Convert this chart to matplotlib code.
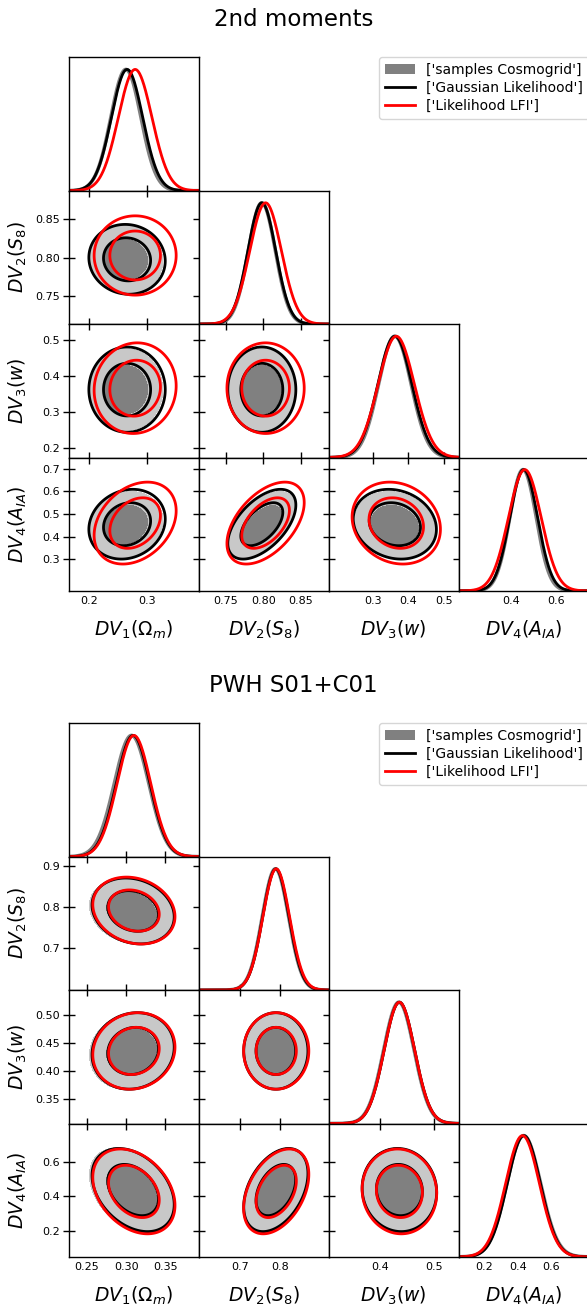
import numpy as np
import matplotlib.pyplot as plt
from matplotlib.patches import Patch
from matplotlib.lines import Line2D

# ---- data ----
param_labels = [r'$DV_1(\Omega_m)$', r'$DV_2(S_8)$', r'$DV_3(w)$', r'$DV_4(A_{IA})$']
legend_names = ["['samples Cosmogrid']", "['Gaussian Likelihood']", "['Likelihood LFI']"]

# panel 1: 2nd moments
mom_title = '2nd moments'
mom_lims = [(0.165, 0.39), (0.714, 0.887), (0.175, 0.5425), (0.16, 0.75)]
mom_xticks = [[0.2, 0.3], [0.75, 0.80, 0.85], [0.3, 0.4, 0.5], [0.4, 0.6]]
mom_yticks = [[], [0.75, 0.80, 0.85], [0.2, 0.3, 0.4, 0.5], [0.3, 0.4, 0.5, 0.6, 0.7]]
mom_xfmt = ['%.1f', '%.2f', '%.1f', '%.1f']
mom_yfmt = ['%.1f', '%.2f', '%.1f', '%.1f']
mom_cosmo_mean = [0.264, 0.798, 0.362, 0.452]
mom_cosmo_sig = [0.026, 0.018, 0.046, 0.060]
mom_gauss_mean = [0.266, 0.798, 0.362, 0.455]
mom_gauss_sig = [0.027, 0.0185, 0.048, 0.063]
mom_lfi_mean = [0.280, 0.803, 0.366, 0.460]
mom_lfi_sig = [0.029, 0.021, 0.051, 0.074]
mom_cosmo_rho = [[1, 0, 0, 0], [-0.05, 1, 0, 0], [0.0, 0.0, 1, 0], [0.15, 0.55, -0.15, 1]]
mom_gauss_rho = [[1, 0, 0, 0], [-0.05, 1, 0, 0], [0.0, 0.0, 1, 0], [0.15, 0.55, -0.15, 1]]
mom_lfi_rho = [[1, 0, 0, 0], [0.0, 1, 0, 0], [0.05, 0.0, 1, 0], [0.3, 0.5, -0.15, 1]]

# panel 2: PWH S01+C01
pwh_title = 'PWH S01+C01'
pwh_lims = [(0.2265, 0.393), (0.596, 0.923), (0.306, 0.545), (0.05, 0.82)]
pwh_xticks = [[0.25, 0.30, 0.35], [0.7, 0.8], [0.4, 0.5], [0.2, 0.4, 0.6]]
pwh_yticks = [[], [0.7, 0.8, 0.9], [0.35, 0.40, 0.45, 0.50], [0.2, 0.4, 0.6]]
pwh_xfmt = ['%.2f', '%.1f', '%.1f', '%.1f']
pwh_yfmt = ['%.2f', '%.1f', '%.2f', '%.1f']
pwh_cosmo_mean = [0.307, 0.789, 0.435, 0.435]
pwh_cosmo_sig = [0.022, 0.033, 0.028, 0.100]
pwh_gauss_mean = [0.309, 0.790, 0.436, 0.436]
pwh_gauss_sig = [0.0215, 0.033, 0.028, 0.098]
pwh_lfi_mean = [0.310, 0.791, 0.436, 0.428]
pwh_lfi_sig = [0.0215, 0.0335, 0.028, 0.100]
pwh_cosmo_rho = [[1, 0, 0, 0], [-0.18, 1, 0, 0], [0.1, 0.0, 1, 0], [-0.35, 0.4, -0.05, 1]]
pwh_gauss_rho = [[1, 0, 0, 0], [-0.18, 1, 0, 0], [0.1, 0.0, 1, 0], [-0.35, 0.4, -0.05, 1]]
pwh_lfi_rho = [[1, 0, 0, 0], [-0.18, 1, 0, 0], [0.1, 0.0, 1, 0], [-0.33, 0.4, -0.05, 1]]

# ---- layout (pixels) ----
W, H = 587, 1306
col_left = [68.7, 198.7, 328.7, 458.7]
col_w = 130.0
row_h = 133.4
lev68, lev95 = -2 * np.log(0.32), -2 * np.log(0.05)

fig = plt.figure(figsize=(W / 100, H / 100), dpi=100)


def mahal(X, Y, mx, my, sx, sy, rho):
    dx = (X - mx) / sx
    dy = (Y - my) / sy
    return (dx ** 2 - 2 * rho * dx * dy + dy ** 2) / (1 - rho ** 2)


def corner(top, title, title_base, lims, xticks, xfmt, yticks, yfmt, means, sigs, rhos):
    fig.text(0.5, 1 - title_base / H, title, ha='center', va='baseline', fontsize=16.5)
    for i in range(4):
        for j in range(i + 1):
            y0 = top + i * row_h
            ax = fig.add_axes([col_left[j] / W, 1 - (y0 + row_h) / H, col_w / W, row_h / H])
            for sp in ax.spines.values():
                sp.set_linewidth(1.0)
            ax.set_xlim(lims[j])
            ax.set_xticks(xticks[j])
            ax.set_xticklabels([xfmt[j] % t for t in xticks[j]])
            if i == j:
                x = np.linspace(lims[i][0], lims[i][1], 400)
                cols = ['#808080', 'black', 'red']
                lws = [2.6, 2.0, 2.0]
                for k in range(3):
                    ax.plot(x, np.exp(-0.5 * ((x - means[k][i]) / sigs[k][i]) ** 2),
                            color=cols[k], lw=lws[k])
                ax.set_ylim(0, 1.1)
                ax.set_yticks([])
                ax.tick_params(direction='in', length=4, width=1, top=False,
                               bottom=(i < 3), labelbottom=(i == 3), labelsize=8, pad=3.5)
            else:
                ax.set_ylim(lims[i])
                ax.set_yticks(yticks[i])
                ax.set_yticklabels([yfmt[i] % t for t in yticks[i]])
                gx = np.linspace(lims[j][0], lims[j][1], 250)
                gy = np.linspace(lims[i][0], lims[i][1], 250)
                X, Y = np.meshgrid(gx, gy)
                d = [mahal(X, Y, means[k][j], means[k][i], sigs[k][j], sigs[k][i], rhos[k][i][j])
                     for k in range(3)]
                ax.contourf(X, Y, d[0], levels=[0, lev68, lev95], colors=['#808080', '#c8c8c8'])
                ax.contour(X, Y, d[1], levels=[lev68, lev95], colors='black', linewidths=2.0)
                ax.contour(X, Y, d[2], levels=[lev68, lev95], colors='red', linewidths=2.0)
                ax.tick_params(direction='in', length=4, width=1, top=True, right=True,
                               bottom=(i < 3), labelbottom=(i == 3), labelleft=(j == 0),
                               labelsize=8, pad=3.5)
                if j == 0:
                    ax.tick_params(axis='y', direction='inout', length=8, pad=2.2)
            if i == 3:
                fig.text((col_left[j] + col_w / 2) / W, 1 - (top + 4 * row_h + 38.5) / H,
                         param_labels[j], ha='center', va='center', fontsize=13.5)
            if j == 0 and i > 0:
                fig.text(18.3 / W, 1 - (y0 + row_h / 2) / H, param_labels[i],
                         ha='center', va='center', rotation=90, fontsize=13.5)

    handles = [Patch(facecolor='#808080', edgecolor='none'),
               Line2D([], [], color='black', lw=2),
               Line2D([], [], color='red', lw=2)]
    fig.legend(handles, legend_names, loc='upper right',
               bbox_to_anchor=((col_left[3] + col_w) / W, 1 - top / H),
               bbox_transform=fig.transFigure, fontsize=10, borderaxespad=0,
               labelspacing=0.3, handlelength=2.2)


corner(57.3, mom_title, 25.5, mom_lims, mom_xticks, mom_xfmt, mom_yticks, mom_yfmt,
       [mom_cosmo_mean, mom_gauss_mean, mom_lfi_mean],
       [mom_cosmo_sig, mom_gauss_sig, mom_lfi_sig],
       [mom_cosmo_rho, mom_gauss_rho, mom_lfi_rho])
corner(723.3, pwh_title, 692, pwh_lims, pwh_xticks, pwh_xfmt, pwh_yticks, pwh_yfmt,
       [pwh_cosmo_mean, pwh_gauss_mean, pwh_lfi_mean],
       [pwh_cosmo_sig, pwh_gauss_sig, pwh_lfi_sig],
       [pwh_cosmo_rho, pwh_gauss_rho, pwh_lfi_rho])

fig.savefig('out.png', dpi=100)
